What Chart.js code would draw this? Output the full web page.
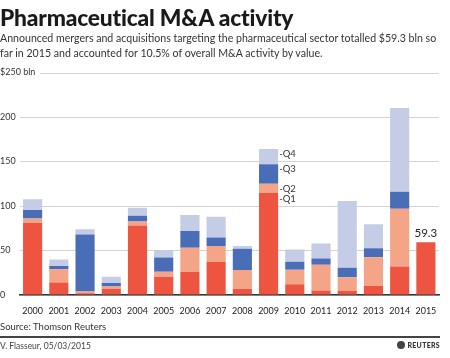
<!DOCTYPE html>
<html lang="en">
<head>
<meta charset="UTF-8">
<title>Pharmaceutical M&amp;A activity</title>
<style>
    body { margin: 0; background: #fff; font-family: Lato, sans-serif; color: #222; }
    .wrap { position: relative; width: 450px; height: 358px; overflow: hidden; }
    #chart { position: absolute; left: 0; top: 0; }
    .txt { position: absolute; white-space: nowrap; }
    h1 { position: absolute; left: 0; top: 3px; margin: 0; font-size: 22.8px; font-weight: 900; color: #1a1a1a; letter-spacing: -0.2px; }
    .sub { left: 0; top: 31px; font-size: 10.6px; line-height: 15px; color: #333; }
    .source { left: 0; top: 321px; font-size: 9.5px; color: #333; }
    .rule { position: absolute; left: 0; top: 336px; width: 440px; height: 2px; background: #444; }
    .byline { left: 0; top: 341px; font-size: 8.5px; color: #444; }
    .logo { right: 10px; top: 341px; font-size: 7px; font-weight: 900; color: #333; letter-spacing: 0.3px; }
    .logo b { display: inline-block; width: 8px; height: 8px; border-radius: 50%; background: #444; vertical-align: -1px; margin-right: 2px; }
</style>
</head>
<body>
<div class="wrap">
    <canvas id="chart" width="450" height="358"></canvas>
    <h1>Pharmaceutical M&amp;A activity</h1>
    <div class="txt sub">Announced mergers and acquisitions targeting the pharmaceutical sector totalled $59.3 bln so<br>far in 2015 and accounted for 10.5% of overall M&amp;A activity by value.</div>
    <div class="txt source">Source: Thomson Reuters</div>
    <div class="rule"></div>
    <div class="txt byline">V. Flasseur, 05/03/2015</div>
    <div class="txt logo"><b></b>REUTERS</div>
</div>

<script src="https://cdn.jsdelivr.net/npm/chart.js"></script>
<script>
    // $ bln per quarter
    const years = ['2000', '2001', '2002', '2003', '2004', '2005', '2006', '2007',
                   '2008', '2009', '2010', '2011', '2012', '2013', '2014', '2015'];
    const q1 = [81, 14, 2, 7, 78, 20.5, 26, 37, 7, 115, 12, 5, 4.5, 10, 32, 59.3];
    const q2 = [5, 15, 2, 2.5, 4.5, 5.5, 27, 18, 21, 10, 16.5, 29, 15.5, 32.5, 65, null];
    const q3 = [9.5, 3.5, 64, 4, 6.5, 16, 19, 9.5, 24, 22, 9, 7, 10.5, 10, 19, null];
    const q4 = [12, 7.5, 6, 7, 9, 8.5, 18, 23.5, 3, 17, 13.5, 17, 75, 27, 94, null];
    const quarterNames = ['Q1', 'Q2', 'Q3', 'Q4'];
    const yTicks = [0, 50, 100, 150, 200, 250];

    const colors = ['#ee5540', '#f4a487', '#4a6db8', '#c4cde5'];
    const labelYear = '2009';   // bar that carries the Q1..Q4 labels
    const totalYear = '2015';

    // little labels: Q1..Q4 next to one bar, the 2015 total, and the "$250 bln" top line
    const annotate = {
        id: 'annotate',
        afterDatasetsDraw(chart) {
            const ctx = chart.ctx;
            const li = years.indexOf(labelYear);
            ctx.save();
            ctx.fillStyle = '#333';
            ctx.font = '9.5px Lato, sans-serif';
            ctx.textBaseline = 'middle';
            ctx.textAlign = 'left';
            chart.data.datasets.forEach((ds, i) => {
                const bar = chart.getDatasetMeta(i).data[li];
                ctx.fillText('-' + quarterNames[i], bar.x + bar.width / 2 + 1, bar.y + (i === 0 ? 6.5 : 5));
            });

            const ti = years.indexOf(totalYear);
            const top = chart.getDatasetMeta(0).data[ti];
            ctx.font = '11.5px Lato, sans-serif';
            ctx.textAlign = 'center';
            ctx.fillStyle = '#222';
            ctx.fillText(q1[ti].toFixed(1), top.x, top.y - 9);

            const y250 = chart.scales.y.getPixelForValue(250);
            ctx.font = '9px Lato, sans-serif';
            ctx.textAlign = 'left';
            ctx.fillStyle = '#333';
            ctx.fillText('$250 bln', 0, y250);
            ctx.strokeStyle = '#d4d4d4';
            ctx.lineWidth = 1;
            ctx.beginPath();
            ctx.moveTo(40, Math.round(y250) + 0.5);
            ctx.lineTo(chart.chartArea.right, Math.round(y250) + 0.5);
            ctx.stroke();
            ctx.restore();
        }
    };

    new Chart(document.getElementById('chart'), {
        type: 'bar',
        data: {
            labels: years,
            datasets: [q1, q2, q3, q4].map((d, i) => ({
                label: quarterNames[i],
                data: d,
                backgroundColor: colors[i],
                borderWidth: 0,
                categoryPercentage: 1,
                barPercentage: 0.73
            }))
        },
        options: {
            responsive: false,
            animation: false,
            layout: { padding: { left: 0, right: 11, top: 72.5, bottom: 33 } },
            plugins: { legend: { display: false }, tooltip: { enabled: false } },
            scales: {
                x: {
                    stacked: true,
                    grid: { display: false, drawTicks: false },
                    border: { display: true, color: '#333', width: 1.5 },
                    ticks: { color: '#222', font: { family: 'Lato', size: 9 }, padding: 11, maxRotation: 0, autoSkip: false },
                    afterFit: (axis) => { axis.height = 30; }
                },
                y: {
                    stacked: true,
                    min: 0,
                    max: 250,
                    afterBuildTicks: (axis) => { axis.ticks = yTicks.map(v => ({ value: v })); },
                    grid: {
                        color: (c) => (c.tick && c.tick.value === 250) ? 'rgba(0,0,0,0)' : '#d4d4d4',
                        drawTicks: false
                    },
                    border: { display: false },
                    ticks: {
                        color: '#333',
                        font: { family: 'Lato', size: 9 },
                        padding: 0,
                        crossAlign: 'far',
                        callback: (v) => v === 250 ? '' : String(v)
                    },
                    afterFit: (axis) => { axis.width = 19.5; }
                }
            }
        },
        plugins: [annotate]
    });
</script>
</body>
</html>
